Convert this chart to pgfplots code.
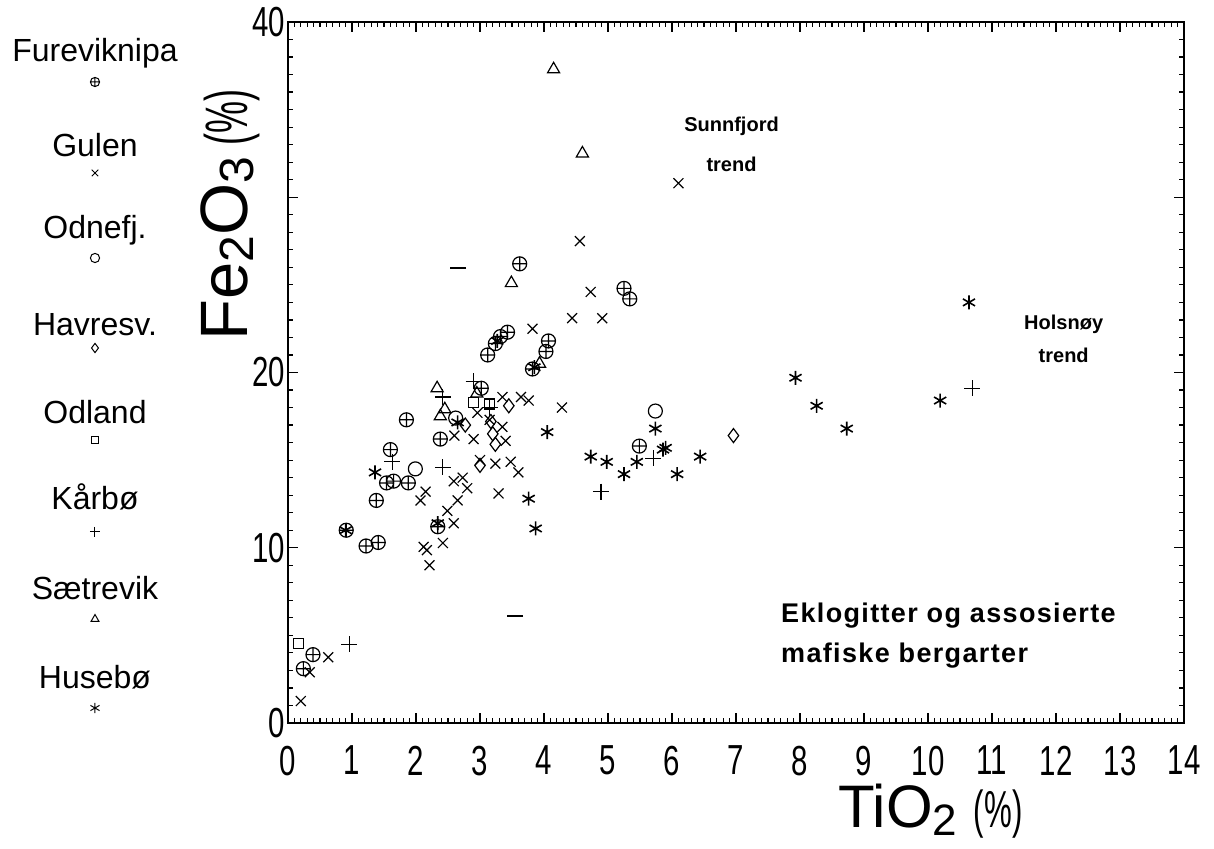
\documentclass[border=0pt]{standalone}
\usepackage{fontspec}
\setmainfont{Liberation Sans}
\newfontfamily\tickfont[FakeStretch=0.7]{Liberation Sans}
\newfontfamily\thinfont[FakeStretch=0.6]{Liberation Sans}
\newfontfamily\annfont[LetterSpace=5]{Liberation Sans}
\usepackage{pgfplots}
\pgfplotsset{compat=1.18}
\begin{document}
\begin{tikzpicture}
\begin{axis}[
  at={(0pt,0pt)}, anchor=south west,
  scale only axis, width=448pt, height=350.5pt,
  xmin=0, xmax=14, ymin=0, ymax=40,
  xtick={0,1,...,14}, ytick={0,10,20,30,40},
  yticklabels={0,10,20,,40},
  minor x tick num=9, minor y tick num=9,
  tick align=inside, xtick pos=both, ytick pos=both,
  major tick length=5pt, minor tick length=2.5pt,
  axis line style={line width=1.2pt},
  every tick/.style={black, line width=0.6pt},
  tick label style={font=\tickfont\fontsize{21}{21}\selectfont},
  xticklabel style={yshift=-8pt},
  yticklabel style={xshift=2pt},
  /pgf/number format/assume math mode=true,
  every axis plot/.append style={only marks, black, line width=0.6pt, mark size=3.5pt},
]
% Fureviknipa
\addplot[mark=oplus] coordinates {
(0.24,3.1) (0.39,3.9) (0.91,11.0) (1.22,10.1) (1.41,10.3) (1.38,12.7)
(1.54,13.7) (1.65,13.8) (1.88,13.7) (1.60,15.6) (1.85,17.3) (2.34,11.2)
(2.38,16.2) (3.02,19.1) (3.12,21.0) (3.24,21.65) (3.32,22.05) (3.43,22.3)
(3.62,26.2) (3.82,20.2) (4.03,21.2) (4.07,21.8) (5.25,24.8) (5.34,24.2) (5.49,15.8)};
% Gulen
\addplot[mark=x] coordinates {
(0.2,1.25) (0.34,2.9) (0.63,3.75) (2.12,10.05) (2.17,9.86) (2.21,9.0) (2.42,10.27)
(2.15,13.2) (2.07,12.7) (2.49,12.1) (2.59,11.4) (2.65,12.7) (2.59,13.8) (2.73,14.0)
(2.8,13.4) (3.0,15.0) (2.6,16.4) (2.9,16.2) (2.96,17.7) (3.15,17.3) (3.35,16.9)
(3.4,16.1) (3.24,14.8) (3.48,14.9) (3.6,14.3) (3.29,13.1) (3.35,18.6) (3.64,18.6)
(3.76,18.4) (4.28,18.0) (3.82,22.5) (4.44,23.1) (4.91,23.1) (4.73,24.6) (4.56,27.5) (6.10,30.8)};
% Odnefj.
\addplot[mark=o] coordinates {(1.99,14.5) (5.74,17.8) (2.62,17.4)};
% Havresv.
\addplot[mark=diamond] coordinates {(6.96,16.4) (3.45,18.1) (3.17,17.2) (3.24,15.9) (2.77,17.0) (3.0,14.7) (3.2,16.5)};
% Odland
\addplot[mark=square, mark size=2.5pt] coordinates {(0.16,4.55) (3.15,18.2) (2.9,18.3)};
% Kaarboe
\addplot[mark=+, mark size=4pt] coordinates {(0.96,4.5) (1.63,14.9) (2.42,14.6) (2.42,18.6) (2.9,19.5) (3.15,18.0) (4.89,13.2) (5.71,15.1) (10.69,19.1)};
% Saetrevik
\addplot[mark=triangle] coordinates {(4.15,37.3) (4.6,32.5) (3.49,25.1) (2.33,19.1) (2.45,17.9) (2.38,17.5) (2.95,18.8) (3.93,20.5)};
% Huseboe
\addplot[mark=asterisk, line width=0.8pt] coordinates {
(0.9,11.0) (1.36,14.3) (2.34,11.4) (2.65,17.15) (3.27,21.8) (3.85,20.3) (4.05,16.6)
(3.76,12.8) (3.87,11.1) (4.73,15.2) (4.98,14.9) (5.25,14.2) (5.45,14.9) (5.74,16.8)
(5.86,15.6) (5.9,15.7) (6.08,14.2) (6.44,15.2) (7.93,19.7) (8.26,18.1) (8.73,16.8)
(10.19,18.4) (10.64,24.0)};
% stray dashes
\addplot[mark=-, mark size=4pt, line width=1pt] coordinates {(2.66,25.95) (3.55,6.1)};
\node[font=\bfseries\fontsize{10}{20}\selectfont, align=center] at (axis cs:6.93,33.0) {Sunnfjord\\trend};
\node[font=\bfseries\fontsize{10}{16.5}\selectfont, align=center] at (axis cs:12.12,21.9) {Holsnøy\\trend};
\node[font=\annfont\bfseries\fontsize{13.5}{20}\selectfont, align=left, anchor=west, inner sep=0pt] at (axis cs:7.7,5.0) {Eklogitter og assosierte\\mafiske bergarter};
\end{axis}
% axis labels
\node[rotate=90, anchor=base, inner sep=0pt, font=\fontsize{33.5}{33.5}\selectfont] at (-20pt,254pt)
 {Fe\raisebox{-3pt}{\fontsize{24}{24}\selectfont 2}O\raisebox{-3pt}{\fontsize{24}{24}\selectfont 3}\,{\thinfont\fontsize{30}{30}\selectfont(\%)}};
\node[anchor=base west, inner sep=0pt, font=\fontsize{30}{30}\selectfont] at (275pt,-52.5pt)
 {TiO\raisebox{-4pt}{\fontsize{22}{22}\selectfont 2}\ {\thinfont\fontsize{26}{26}\selectfont(\%)}};
% legend
\begin{scope}[every node/.style={font=\fontsize{16}{16}\selectfont, inner sep=0pt}]
\node at (-96.5pt,335pt) {Fureviknipa};
\node at (-96.5pt,289pt) {Gulen};
\node at (-96.5pt,246.5pt) {Odnefj.};
\node at (-96.5pt,199pt) {Havresv.};
\node at (-96.5pt,155.5pt) {Odland};
\node at (-96.5pt,113pt) {Kårbø};
\node at (-96.5pt,67.5pt) {Sætrevik};
\node at (-96.5pt,23pt) {Husebø};
\node at (-96.5pt,320.5pt) {\tikz[mark size=2.3pt, line width=0.5pt]\pgfuseplotmark{oplus};};
\node at (-96.5pt,275pt) {\tikz[mark size=2.3pt, line width=0.5pt]\pgfuseplotmark{x};};
\node at (-96.5pt,232.5pt) {\tikz[mark size=2.3pt, line width=0.5pt]\pgfuseplotmark{o};};
\node at (-96.5pt,187.5pt) {\tikz[mark size=2.3pt, line width=0.5pt]\pgfuseplotmark{diamond};};
\node at (-96.5pt,141.5pt) {\tikz[mark size=1.8pt, line width=0.5pt]\pgfuseplotmark{square};};
\node at (-96.5pt,95.5pt) {\tikz[mark size=2.6pt, line width=0.5pt]\pgfuseplotmark{+};};
\node at (-96.5pt,52.5pt) {\tikz[mark size=2.3pt, line width=0.5pt]\pgfuseplotmark{triangle};};
\node at (-96.5pt,7.5pt) {\tikz[mark size=2.6pt, line width=0.5pt]\pgfuseplotmark{asterisk};};
\end{scope}
\pgfresetboundingbox
\useasboundingbox (-144pt,-63pt) rectangle (463pt,361.5pt);
\end{tikzpicture}
\end{document}
